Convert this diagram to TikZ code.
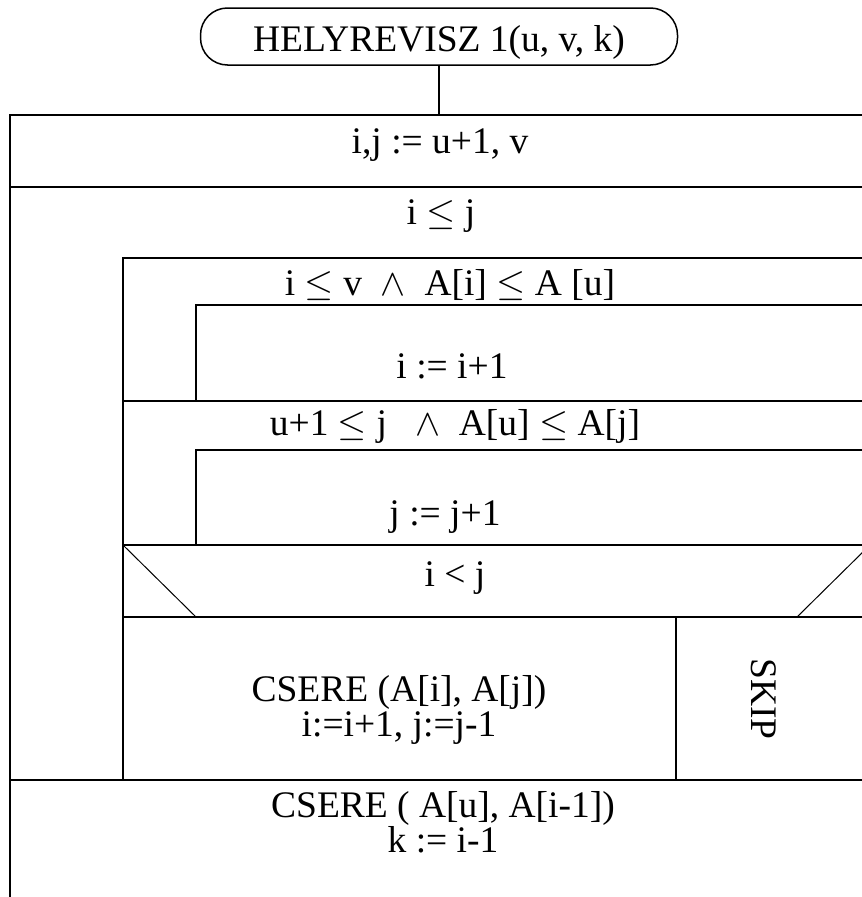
\RequirePackage{fix-cm}
\documentclass[tikz,border=0pt]{standalone}
\usepackage{fontspec}
\setmainfont{Liberation Serif}
\usetikzlibrary{positioning}

\newcommand{\andop}{$\wedge$}
\newcommand{\leop}{$\leq$}

\begin{document}
\begin{tikzpicture}[x=1pt, y=-1pt,
    txt/.style={font=\fontsize{37.5}{35}\selectfont, inner sep=0pt, anchor=base},
    txtblock/.style={font=\fontsize{37.5}{35}\selectfont, inner sep=0pt, align=center},
    startbox/.style={rectangle, draw=black, line width=1.5pt, rounded corners=27pt, minimum width=477pt, minimum height=57pt, inner sep=0pt, text height=30pt, text depth=0pt, font=\fontsize{37.5}{35}\selectfont},
    frame/.style={draw=black, line width=2pt},
    slant/.style={draw=black, line width=1pt},
    link/.style={draw=black, line width=1.5pt}
]
    \useasboundingbox (0,0) rectangle (862,897);
    \clip (0,0) rectangle (862,897);

    % start symbol
    \node [startbox] (title) at (439,36.5) {HELYREVISZ 1(u, v, k)};
    \coordinate (entry) at (title.south |- {(0,115)});
    \draw [link] (title.south) -- (entry);

    % frame of the structogram
    \draw [frame] (10,897) -- (10,115) -- (870,115);
    \draw [frame] (123,780) -- (123,258) -- (870,258);
    \draw [frame] (196,401) -- (196,305) -- (870,305);
    \draw [frame] (196,545) -- (196,450) -- (870,450);
    \draw [frame] (676,617) -- (676,780);
    \foreach \y/\x in {187/10, 401/123, 545/123, 617/123, 780/10}
        \draw [frame] (\x,\y) -- (870,\y);
    \draw [slant] (123,545) -- (196,617);
    \draw [slant] (870,545) -- (797,617);

    % texts
    \node [txt] (init) at (440,153) {i,j := u+1, v};
    \node [txt] (outer) at (441,224) {i \leop\ j};
    \node [txt] (condi) at (450,295) {i \leop\ v\ \ \andop\ \ A[i] \leop\ A [u]};
    \node [txt] (inci) at (452,378) {i := i+1};
    \node [txt] (condj) at (455,435) {u+1 \leop\ j\ \ \ \andop\ \ A[u] \leop\ A[j]};
    \node [txt] (incj) at (445,525) {j := j+1};
    \node [txt] (test) at (455,586) {i < j};
    \node [txtblock] (swap) at (399,710) {CSERE (A[i], A[j])\\i:=i+1, j:=j-1};
    \node [txt, anchor=center, rotate=-90] (skip) at (764,699) {SKIP};
    \node [txtblock] (final) at (443,822) {CSERE ( A[u], A[i-1])\\k := i-1};
\end{tikzpicture}
\end{document}
